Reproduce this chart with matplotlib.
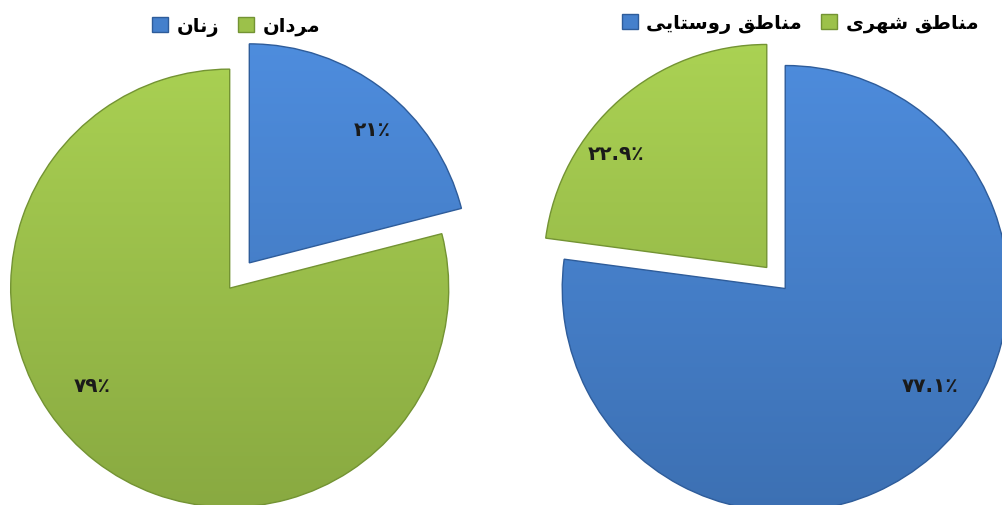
import matplotlib
matplotlib.use("Agg")
import numpy as np
import matplotlib.pyplot as plt
from matplotlib.patches import Patch
from matplotlib.colors import to_rgb

# ---------------- data ----------------
gender_labels = ["زنان", "مردان"]
gender_values = [21, 79]
area_labels = ["مناطق روستایی", "مناطق شهری"]
area_values = [77.1, 22.9]

BLUE = "#4580CC"
GREEN = "#9CC14A"
BLUE_EDGE = "#2E5C9A"
GREEN_EDGE = "#739333"

# ---------------- simple Persian shaping ----------------
FORMS = {
    "\u0645": ("\uFEE1", "\uFEE2", "\uFEE3", "\uFEE4"),
    "\u0646": ("\uFEE5", "\uFEE6", "\uFEE7", "\uFEE8"),
    "\u0627": ("\uFE8D", "\uFE8E", "\uFE8D", "\uFE8E"),
    "\u0637": ("\uFEC1", "\uFEC2", "\uFEC3", "\uFEC4"),
    "\u0642": ("\uFED5", "\uFED6", "\uFED7", "\uFED8"),
    "\u0631": ("\uFEAD", "\uFEAE", "\uFEAD", "\uFEAE"),
    "\u0648": ("\uFEED", "\uFEEE", "\uFEED", "\uFEEE"),
    "\u0633": ("\uFEB1", "\uFEB2", "\uFEB3", "\uFEB4"),
    "\u062A": ("\uFE95", "\uFE96", "\uFE97", "\uFE98"),
    "\u06CC": ("\uFBFC", "\uFBFD", "\uFBFE", "\uFBFF"),
    "\u0634": ("\uFEB5", "\uFEB6", "\uFEB7", "\uFEB8"),
    "\u0647": ("\uFEE9", "\uFEEA", "\uFEEB", "\uFEEC"),
    "\u0632": ("\uFEAF", "\uFEB0", "\uFEAF", "\uFEB0"),
    "\u062F": ("\uFEA9", "\uFEAA", "\uFEA9", "\uFEAA"),
}
RIGHT_ONLY = set("\u0627\u062F\u0630\u0631\u0632\u0698\u0648")


def shape(s):
    out = []
    for i, ch in enumerate(s):
        if ch not in FORMS:
            out.append(ch)
            continue
        prev = s[i - 1] if i > 0 else None
        nxt = s[i + 1] if i + 1 < len(s) else None
        jp = prev in FORMS and prev not in RIGHT_ONLY
        jn = nxt in FORMS and ch not in RIGHT_ONLY
        iso, fin, ini, med = FORMS[ch]
        if jp and jn:
            out.append(med)
        elif jp:
            out.append(fin)
        elif jn:
            out.append(ini)
        else:
            out.append(iso)
    return "".join(out)[::-1]


FA_DIGITS = str.maketrans("0123456789", "۰۱۲۳۴۵۶۷۸۹")


def fa_pct(v):
    return f"{v:g}".translate(FA_DIGITS) + "٪"


plt.rcParams["font.family"] = ["DejaVu Sans"]

W, H = 1003, 506
fig = plt.figure(figsize=(W / 100, H / 100), dpi=100)
ax = fig.add_axes([0, 0, 1, 1])


def gradient_fill(wedge, color):
    base = np.array(to_rgb(color))
    t = np.linspace(0, 1, 256)[:, None]  # bottom -> top
    light = np.clip(base * 1.08 + 0.02, 0, 1)
    dark = base * 0.88
    img = dark[None, :] * (1 - t) + light[None, :] * t
    img = img[:, None, :]
    im = ax.imshow(img, extent=[0, W, 0, H], origin="lower", aspect="auto",
                   zorder=0.5, interpolation="bilinear")
    im.set_clip_path(wedge)
    wedge.set_facecolor("none")


# left pie (gender)
wl, _ = ax.pie(gender_values, colors=[BLUE, GREEN], startangle=90, counterclock=False,
               center=(239.5, H - 276.5), radius=219, explode=[16, 16],
               wedgeprops=dict(linewidth=1.0), frame=True)
for w, c, ec in zip(wl, [BLUE, GREEN], [BLUE_EDGE, GREEN_EDGE]):
    w.set_edgecolor(ec)
    gradient_fill(w, c)

# right pie (area)
wr, _ = ax.pie(area_values, colors=[BLUE, GREEN], startangle=90, counterclock=False,
               center=(776, H - 279), radius=223, explode=[14, 14],
               wedgeprops=dict(linewidth=1.0), frame=True)
for w, c, ec in zip(wr, [BLUE, GREEN], [BLUE_EDGE, GREEN_EDGE]):
    w.set_edgecolor(ec)
    gradient_fill(w, c)

ax.set_xlim(0, W)
ax.set_ylim(0, H)
ax.set_aspect("equal")
ax.axis("off")

# data labels
lab_kw = dict(ha="center", va="center", fontsize=14.5, fontweight="bold", color="#1a1a1a")
left_pos = [(372, H - 131), (92, H - 386)]
for v, (x, y) in zip(gender_values, left_pos):
    ax.text(x, y, fa_pct(v), **lab_kw)
right_pos = [(930, H - 386), (616, H - 154)]
for v, (x, y) in zip(area_values, right_pos):
    ax.text(x, y, fa_pct(v), **lab_kw)

# legends
leg_kw = dict(ncol=2, frameon=False, handlelength=0.8, handleheight=0.8,
              handletextpad=0.45, columnspacing=1.0, borderpad=0, borderaxespad=0,
              prop=dict(size=14, weight="bold"), loc="center left")
h1 = [Patch(facecolor=BLUE, edgecolor=BLUE_EDGE), Patch(facecolor=GREEN, edgecolor=GREEN_EDGE)]
leg1 = ax.legend(h1, [shape(t) for t in gender_labels],
                 bbox_to_anchor=(152 / W, 1 - 27 / H), bbox_transform=fig.transFigure, **leg_kw)
ax.add_artist(leg1)
h2 = [Patch(facecolor=BLUE, edgecolor=BLUE_EDGE), Patch(facecolor=GREEN, edgecolor=GREEN_EDGE)]
leg2 = ax.legend(h2, [shape(t) for t in area_labels],
                 bbox_to_anchor=(622 / W, 1 - 24 / H), bbox_transform=fig.transFigure, **leg_kw)

fig.savefig("out.png", dpi=100)
